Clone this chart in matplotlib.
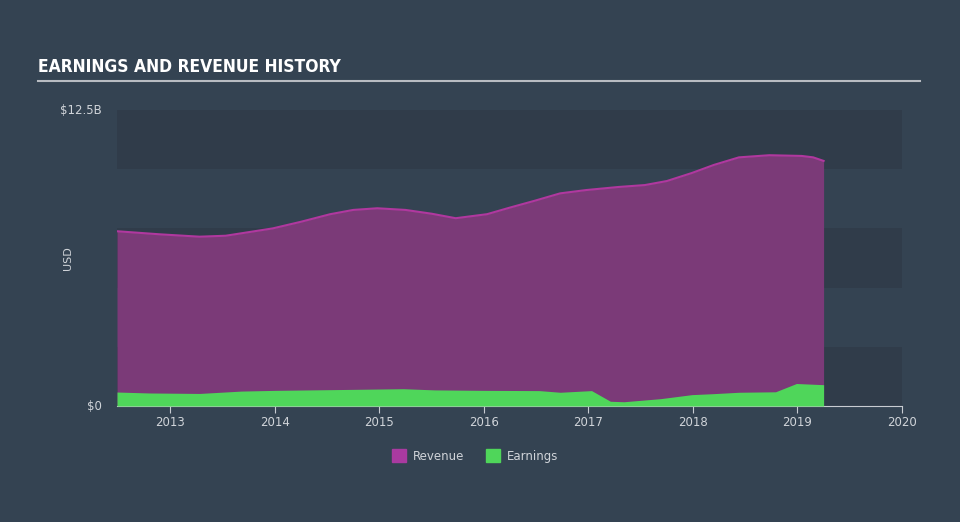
import matplotlib.pyplot as plt
import matplotlib.patches as mpatches

# data (USD billions)
rev_years = [2012.49, 2012.9, 2013.28, 2013.53, 2013.98, 2014.25, 2014.53, 2014.75, 2014.98,
             2015.25, 2015.5, 2015.73, 2016.03, 2016.25, 2016.48, 2016.73, 2016.98, 2017.29,
             2017.54, 2017.75, 2017.99, 2018.2, 2018.44, 2018.73, 2019.04, 2019.15, 2019.25]
revenue = [7.38, 7.25, 7.15, 7.19, 7.5, 7.78, 8.1, 8.28, 8.35,
           8.28, 8.12, 7.93, 8.1, 8.38, 8.66, 8.98, 9.12, 9.25,
           9.33, 9.5, 9.84, 10.18, 10.5, 10.59, 10.56, 10.5, 10.35]

earn_years = [2012.49, 2012.8, 2013.28, 2013.68, 2014.0, 2014.53, 2015.23, 2015.53, 2016.0,
              2016.53, 2016.73, 2017.03, 2017.21, 2017.34, 2017.69, 2017.99, 2018.19,
              2018.44, 2018.79, 2018.99, 2019.25]
earnings = [0.59, 0.55, 0.53, 0.63, 0.66, 0.69, 0.73, 0.68, 0.66,
            0.65, 0.58, 0.65, 0.2, 0.18, 0.31, 0.48, 0.52, 0.58, 0.6, 0.95, 0.9]

xticks = [2013, 2014, 2015, 2016, 2017, 2018, 2019, 2020]

bg = '#344352'
band = '#303c4a'
txt = '#d0d4d9'

fig = plt.figure(figsize=(9.6, 5.22), dpi=100, facecolor=bg)
ax = fig.add_axes([117 / 960, 1 - 406 / 522, 785 / 960, 296 / 522])
ax.set_facecolor(bg)

# alternating horizontal bands
for lo in [0, 5, 10]:
    ax.axhspan(lo, lo + 2.5, color=band, zorder=0, lw=0)

ax.fill_between(rev_years, revenue, color='#7b3a78', zorder=1, lw=0)
ax.plot(rev_years, revenue, color='#b0389f', lw=1.5, zorder=2)
ax.fill_between(earn_years, earnings, color='#4fd65a', zorder=3, lw=0)

ax.set_xlim(2012.49, 2020)
ax.set_ylim(0, 12.5)
ax.set_xticks(xticks)
ax.set_xticklabels([str(y) for y in xticks])
ax.set_yticks([0, 12.5])
ax.set_yticklabels(['$0', '$12.5B'])
ax.tick_params(axis='x', colors=txt, labelsize=8.5, length=5, width=0.8, direction='out', pad=2)
ax.tick_params(axis='x', color='#c8ccd2')
ax.tick_params(axis='y', colors=txt, labelsize=8.5, length=0, pad=11)
for lab in ax.get_yticklabels():
    lab.set_verticalalignment('center')
for s in ['top', 'right', 'left']:
    ax.spines[s].set_visible(False)
ax.spines['bottom'].set_color('#c8ccd2')
ax.spines['bottom'].set_linewidth(0.8)

fig.text(68 / 960, 1 - 258 / 522, 'USD', rotation=90, color=txt, fontsize=8,
         ha='center', va='center')

fig.text(38 / 960, 1 - 67 / 522, 'EARNINGS AND REVENUE HISTORY', color='white',
         fontsize=12.5, fontweight='bold', fontstretch='condensed',
         family=['DejaVu Sans'], ha='left', va='center')
fig.add_artist(plt.Line2D([38 / 960, 920 / 960], [1 - 81 / 522, 1 - 81 / 522],
                          color='#b8bcc2', lw=1.5))

handles = [mpatches.Patch(color='#a93aa0', label='Revenue'),
           mpatches.Patch(color='#4fd65a', label='Earnings')]
leg = fig.legend(handles=handles, loc='center', bbox_to_anchor=(0.495, 1 - 456 / 522),
                 ncol=2, frameon=False, fontsize=8.5, handlelength=1.2, handleheight=1.2,
                 columnspacing=1.8, handletextpad=0.6)
for t in leg.get_texts():
    t.set_color(txt)

fig.savefig('out.png', dpi=100, facecolor=bg)
